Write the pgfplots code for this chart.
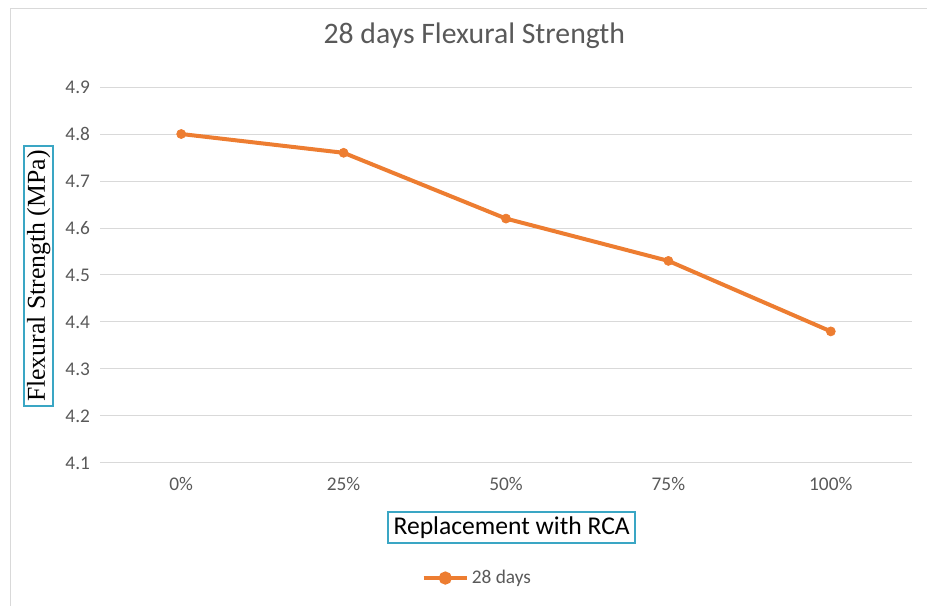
\documentclass[border=0pt]{standalone}
\usepackage{pgfplots}
\pgfplotsset{compat=1.18}
\usepackage{fontspec}
\setmainfont{Carlito}
\newfontfamily\serifrm{Liberation Serif}
\definecolor{lineor}{HTML}{ED7D31}
\definecolor{gridc}{HTML}{D9D9D9}
\definecolor{txtg}{HTML}{595959}
\definecolor{boxc}{HTML}{3AA6C4}
\definecolor{framec}{HTML}{D9D9D9}

\begin{document}
\begin{tikzpicture}[x=0.75pt,y=0.75pt]
% page frame (1 unit = one pixel of a 927x606 canvas, y measured upwards)
\path[use as bounding box] (0,0) rectangle (927,606);
\draw[framec,line width=0.75pt] (10,0) -- (10,597) -- (927,597);
\begin{axis}[
  at={(100*0.75pt,143*0.75pt)}, anchor=south west,
  scale only axis,
  width=812*0.75pt, height=376*0.75pt,
  xmin=-0.5, xmax=4.5,
  ymin=4.1, ymax=4.9,
  xtick={0,1,2,3,4},
  xticklabels={0\%,25\%,50\%,75\%,100\%},
  ytick={4.1,4.2,...,4.9},
  yticklabel style={/pgf/number format/fixed,/pgf/number format/precision=1,/pgf/number format/fixed zerofill},
  /pgf/number format/assume math mode=true,
  ymajorgrids,
  grid style={gridc,line width=0.75pt},
  axis line style={draw=none},
  tick style={draw=none},
  tick label style={font=\fontsize{14.5}{16}\selectfont,text=txtg},
  xticklabel style={yshift=-7pt},
  yticklabel style={xshift=-4pt},
  title={28 days Flexural Strength},
  title style={at={(0.461,1.114)},anchor=center,font=\fontsize{22.3}{25}\selectfont,text=txtg},
  xlabel={Replacement with RCA},
  xlabel style={at={(0.507,-0.1715)},anchor=center,font=\fontsize{19.2}{22}\selectfont,text=black,draw=boxc,line width=1.3pt,inner xsep=4pt,inner ysep=3.5pt},
  ylabel={\serifrm Flexural Strength (MPa)},
  ylabel style={at={(-0.0755,0.497)},anchor=center,rotate=0,font=\fontsize{19.3}{22}\selectfont,text=black,draw=boxc,line width=1.3pt,inner xsep=3pt,inner ysep=2pt},
  legend style={at={(0.465,-0.306)},anchor=center,draw=none,fill=none,font=\fontsize{14.5}{16}\selectfont,text=txtg},
  legend cell align=left,
  legend image code/.code={
    \draw[lineor,line width=3pt] (0cm,0cm) -- (1.15cm,0cm);
    \fill[lineor] (0.575cm,0cm) circle (3.4pt);
  },
  clip=false,
]
\addplot[color=lineor,line width=3pt,mark=*,mark size=3.4pt,mark options={fill=lineor,draw=lineor,line width=0.5pt}]
  coordinates {(0,4.80) (1,4.76) (2,4.62) (3,4.53) (4,4.38)};
\addlegendentry{28 days}
\end{axis}
\end{tikzpicture}
\end{document}
